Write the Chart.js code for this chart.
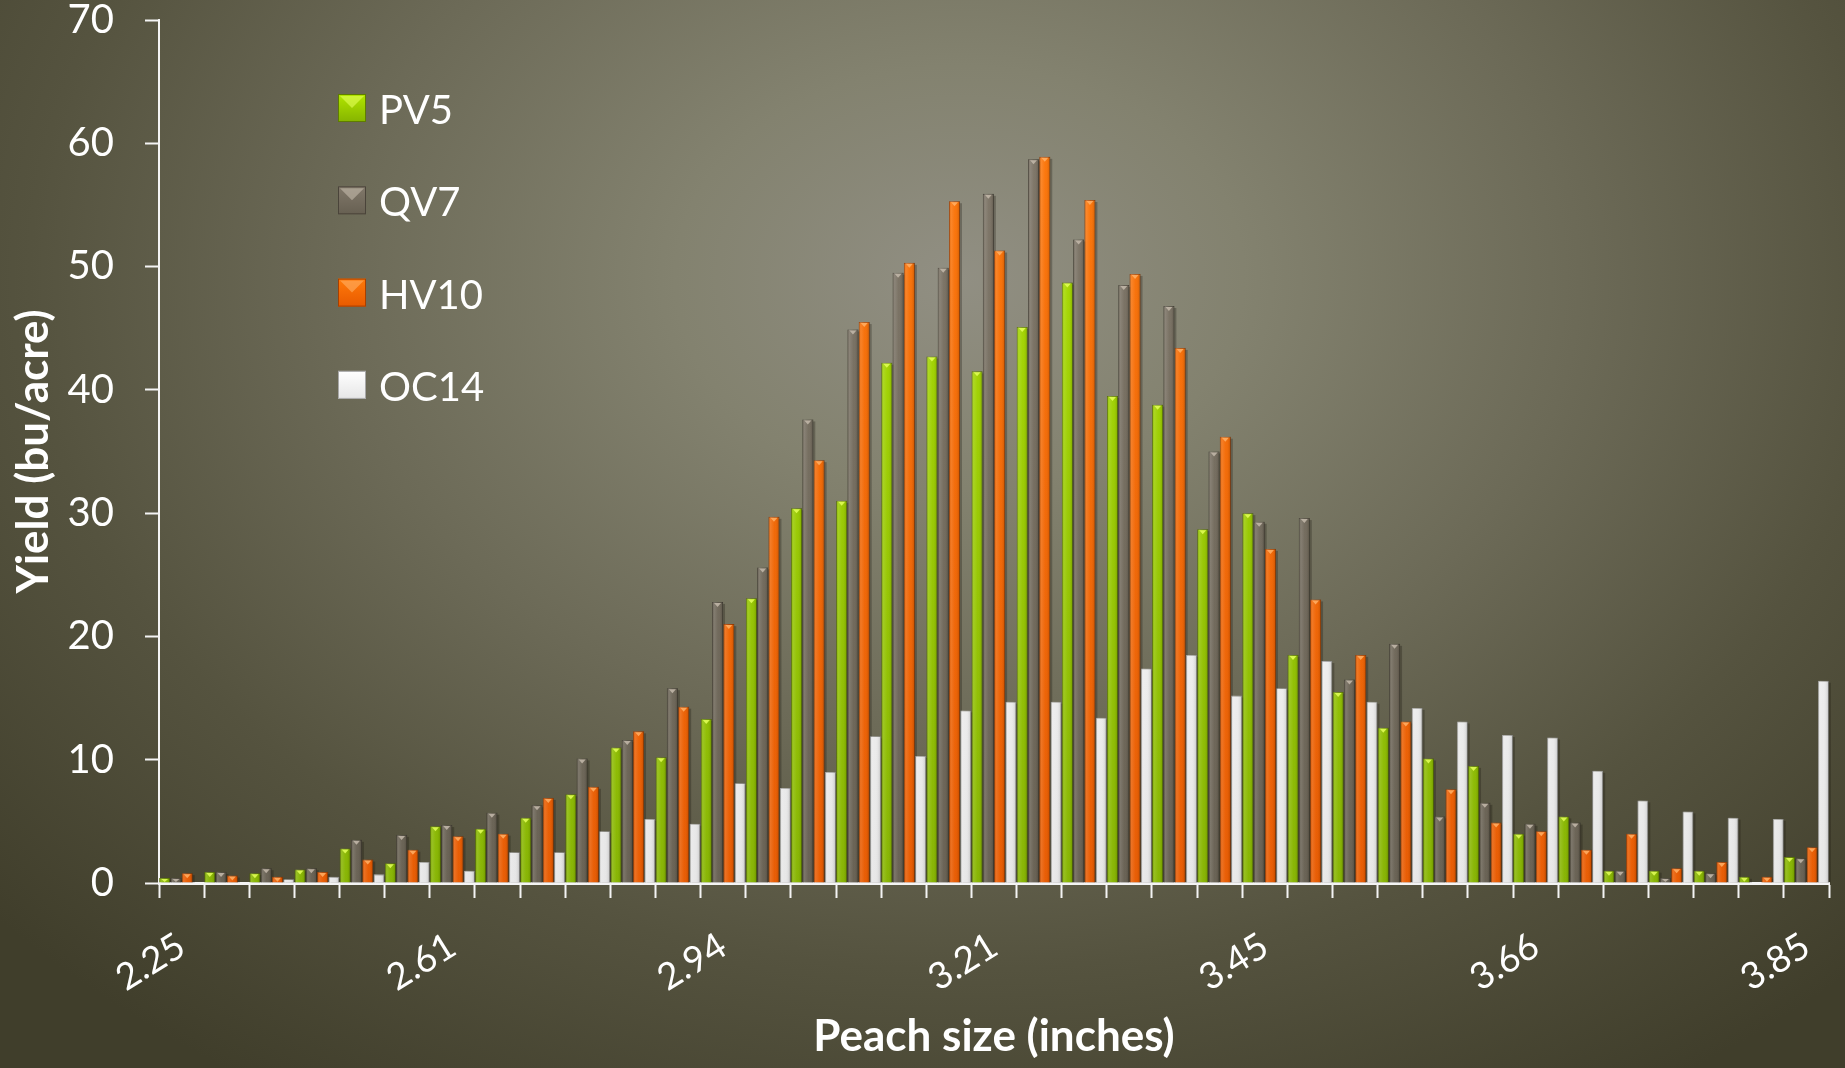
<!DOCTYPE html>
<html>
<head>
<meta charset="utf-8">
<title>Peach size distribution</title>
<script src="https://cdn.jsdelivr.net/npm/chart.js@4/dist/chart.umd.min.js"></script>
<style>
  html, body { margin: 0; padding: 0; width: 1845px; height: 1068px; overflow: hidden; }
  body {
    background: radial-gradient(ellipse 70% 90% at 52% 26%,
      #918f83 0%, #83826f 22%, #6c6a57 48%, #55533f 72%, #403e2b 100%);
  }
  #wrap { position: relative; width: 1845px; height: 1068px; }
</style>
</head>
<body>
<div id="wrap"><canvas id="chart" width="1845" height="1068"></canvas></div>
<script>
// Peach size classes (inches); only every sixth class carries a printed label
const categories = [
  '2.25', '', '', '', '', '',
  '2.61', '', '', '', '', '',
  '2.94', '', '', '', '', '',
  '3.21', '', '', '', '', '',
  '3.45', '', '', '', '', '',
  '3.66', '', '', '', '', '',
  '3.85'
];

// Yield (bu/acre) per size class for each orchard block
const pv5 = [0.4, 0.9, 0.8, 1.1, 2.8, 1.6, 4.6, 4.4, 5.3, 7.2, 11.0, 10.2, 13.3, 23.1, 30.4, 31.0, 42.2, 42.7, 41.5,
             45.1, 48.7, 39.5, 38.8, 28.7, 30.0, 18.5, 15.5, 12.6, 10.1, 9.5, 4.0, 5.4, 1.0, 1.0, 1.0, 0.5, 2.1];
const qv7 = [0.4, 0.9, 1.2, 1.2, 3.5, 3.9, 4.7, 5.7, 6.3, 10.1, 11.6, 15.8, 22.8, 25.6, 37.6, 44.9, 49.5, 49.9, 55.9,
             58.7, 52.2, 48.5, 46.8, 35.0, 29.3, 29.6, 16.5, 19.4, 5.4, 6.5, 4.8, 4.9, 1.0, 0.4, 0.8, 0, 2.0];
const hv10 = [0.8, 0.6, 0.5, 0.9, 1.9, 2.7, 3.8, 4.0, 6.9, 7.8, 12.3, 14.3, 21.0, 29.7, 34.3, 45.5, 50.3, 55.3, 51.3,
              58.9, 55.4, 49.4, 43.4, 36.2, 27.1, 23.0, 18.5, 13.1, 7.6, 4.9, 4.2, 2.7, 4.0, 1.2, 1.7, 0.5, 2.9];
const oc14 = [0, 0, 0.3, 0.5, 0.7, 1.7, 1.0, 2.5, 2.5, 4.2, 5.2, 4.8, 8.1, 7.7, 9.0, 11.9, 10.3, 14.0, 14.7,
              14.7, 13.4, 17.4, 18.5, 15.2, 15.8, 18.0, 14.7, 14.2, 13.1, 12.0, 11.8, 9.1, 6.7, 5.8, 5.3, 5.2, 16.4];

const seriesNames = ['PV5', 'QV7', 'HV10', 'OC14'];
const yTicks = [0, 10, 20, 30, 40, 50, 60, 70];

// Bar palettes: top / bottom of the vertical fill, plus the bevel cap tint
const palette = [
  { top: '#b2e600', bottom: '#86b400', cap: '#e4ff5a', edge: '#5f7d00' },
  { top: '#81786a', bottom: '#676052', cap: '#c4baab', edge: '#4a443a' },
  { top: '#ff7a0a', bottom: '#e85a00', cap: '#ffb066', edge: '#a84000' },
  { top: '#ffffff', bottom: '#e6e6e6', cap: null,      edge: '#a8a8a8' }
];

function verticalFill(i) {
  return (ctx) => {
    const area = ctx.chart.chartArea;
    if (!area) return palette[i].top;
    const g = ctx.chart.ctx.createLinearGradient(0, area.top, 0, area.bottom);
    g.addColorStop(0, palette[i].top);
    g.addColorStop(1, palette[i].bottom);
    return g;
  };
}

const seriesValues = [pv5, qv7, hv10, oc14];
const datasets = seriesValues.map((vals, i) => ({
  label: seriesNames[i],
  data: vals,
  backgroundColor: verticalFill(i),
  borderColor: palette[i].edge,
  borderWidth: 0.8,
  barPercentage: 0.97,
  categoryPercentage: 1.0
}));

// Soft shadow to the right of each bar
const barShadow = {
  id: 'barShadow',
  beforeDatasetsDraw(chart) {
    const ctx = chart.ctx;
    ctx.save();
    chart.data.datasets.forEach((ds, di) => {
      chart.getDatasetMeta(di).data.forEach(bar => {
        const { x, y, base, width } = bar.getProps(['x', 'y', 'base', 'width'], true);
        const h = base - y;
        if (h < 0.5) return;
        ctx.fillStyle = 'rgba(20,18,10,0.28)';
        ctx.fillRect(x - width / 2 + 2, y + 2, width, h - 2);
      });
    });
    ctx.restore();
  }
};

// Horizontal shading and the small bevel chevron on top of each bar
const barBevel = {
  id: 'barBevel',
  afterDatasetsDraw(chart) {
    const ctx = chart.ctx;
    ctx.save();
    chart.data.datasets.forEach((ds, di) => {
      const cap = palette[di].cap;
      chart.getDatasetMeta(di).data.forEach(bar => {
        const { x, y, base, width } = bar.getProps(['x', 'y', 'base', 'width'], true);
        const h = base - y;
        if (h < 0.5) return;
        const l = x - width / 2, r = x + width / 2;
        const g = ctx.createLinearGradient(l, 0, r, 0);
        g.addColorStop(0, 'rgba(0,0,0,0.10)');
        g.addColorStop(0.18, 'rgba(255,255,255,0.14)');
        g.addColorStop(0.55, 'rgba(255,255,255,0.02)');
        g.addColorStop(0.85, 'rgba(0,0,0,0.08)');
        g.addColorStop(1, 'rgba(0,0,0,0.22)');
        ctx.fillStyle = g;
        ctx.fillRect(l, y, width, h);
        if (cap && h > 3) {
          ctx.fillStyle = cap;
          ctx.globalAlpha = 0.85;
          ctx.beginPath();
          ctx.moveTo(l + 2, y + 1);
          ctx.lineTo(r - 2, y + 1);
          ctx.lineTo(x, y + Math.min(5, h - 0.5));
          ctx.closePath();
          ctx.fill();
          ctx.globalAlpha = 1;
        }
      });
    });
    ctx.restore();
  }
};

// Vertical legend placed inside the plot, top-left
const sideLegend = {
  id: 'sideLegend',
  afterDraw(chart) {
    const ctx = chart.ctx;
    const boxX = 338, box = 28, firstY = 108, step = 92.3, textX = 379;
    ctx.save();
    chart.data.datasets.forEach((ds, i) => {
      const cy = firstY + i * step;
      const top = cy - box / 2;
      const g = ctx.createLinearGradient(0, top, 0, top + box);
      g.addColorStop(0, palette[i].top);
      g.addColorStop(1, palette[i].bottom);
      ctx.fillStyle = g;
      ctx.fillRect(boxX, top, box, box);
      ctx.strokeStyle = palette[i].edge;
      ctx.lineWidth = 1;
      ctx.strokeRect(boxX + 0.5, top + 0.5, box - 1, box - 1);
      if (palette[i].cap) {
        ctx.fillStyle = palette[i].cap;
        ctx.globalAlpha = 0.6;
        ctx.beginPath();
        ctx.moveTo(boxX + 2, top + 2);
        ctx.lineTo(boxX + box - 2, top + 2);
        ctx.lineTo(boxX + box / 2, top + box / 2);
        ctx.closePath();
        ctx.fill();
        ctx.globalAlpha = 1;
      }
      ctx.fillStyle = '#ffffff';
      ctx.font = '40px Lato';
      ctx.textAlign = 'left';
      ctx.textBaseline = 'middle';
      ctx.fillText(ds.label, textX, cy + 3);
    });
    ctx.restore();
  }
};

new Chart(document.getElementById('chart'), {
  type: 'bar',
  data: { labels: categories, datasets },
  plugins: [barShadow, barBevel, sideLegend],
  options: {
    responsive: false,
    animation: false,
    devicePixelRatio: 1,
    layout: { padding: { top: 20, right: 16, left: 0, bottom: 0 } },
    plugins: {
      legend: { display: false },
      tooltip: { enabled: false }
    },
    scales: {
      x: {
        afterFit(scale) {
          scale.height = 185;
          scale.paddingLeft = 0;
          scale.paddingRight = 0;
        },
        grid: {
          display: true,
          drawOnChartArea: false,
          drawTicks: true,
          tickLength: 15,
          tickWidth: 2,
          color: '#f4f4f4',
          offset: true
        },
        border: { display: true, color: '#f4f4f4', width: 3 },
        ticks: {
          autoSkip: false,
          minRotation: 32,
          maxRotation: 32,
          padding: 26,
          color: '#ffffff',
          font: { family: 'Lato', size: 37 }
        },
        title: {
          display: true,
          text: 'Peach size (inches)',
          color: '#ffffff',
          font: { family: 'Lato', size: 44, weight: 'bold' },
          padding: { top: 0, bottom: 5 }
        }
      },
      y: {
        min: 0,
        max: 70,
        afterFit(scale) {
          scale.width = 159;
          scale.paddingTop = 0;
          scale.paddingBottom = 0;
        },
        afterBuildTicks(scale) { scale.ticks = yTicks.map(v => ({ value: v })); },
        grid: {
          display: true,
          drawOnChartArea: false,
          drawTicks: true,
          tickLength: 14,
          tickWidth: 2,
          color: '#f4f4f4'
        },
        border: { display: true, color: '#f4f4f4', width: 2 },
        ticks: {
          padding: 31,
          color: '#ffffff',
          font: { family: 'Lato', size: 40, lineHeight: 1.0 }
        },
        title: {
          display: true,
          text: 'Yield (bu/acre)',
          color: '#ffffff',
          font: { family: 'Lato', size: 44, weight: 'bold' },
          padding: { top: 7, bottom: 0 }
        }
      }
    }
  }
});
</script>
</body>
</html>
